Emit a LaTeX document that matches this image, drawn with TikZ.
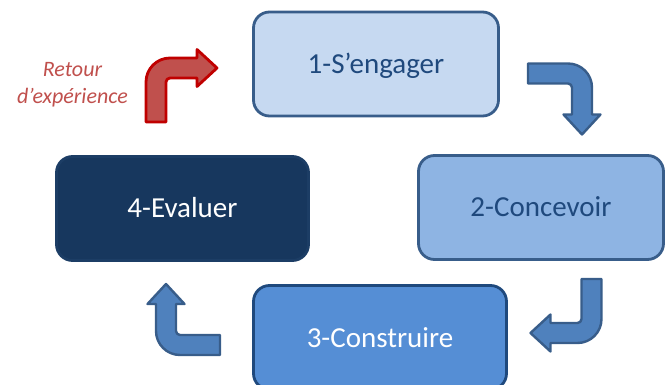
\documentclass[tikz,border=0pt]{standalone}
\usepackage{fontspec}
\setmainfont{Carlito}
\definecolor{stageone}{HTML}{C6D9F1}
\definecolor{stagetwo}{HTML}{8EB4E3}
\definecolor{stagethree}{HTML}{558ED5}
\definecolor{stagefour}{HTML}{17375E}
\definecolor{stageedge}{HTML}{385D8A}
\definecolor{stagetext}{HTML}{1F497D}
\definecolor{arrowfill}{HTML}{4F81BD}
\definecolor{arrowedge}{HTML}{385D8A}
\definecolor{returnfill}{HTML}{C0504D}
\definecolor{returnedge}{HTML}{C00000}
\tikzset{
  stage/.style={draw=stageedge, line width=2.8pt, rounded corners=16pt, minimum height=104pt,
    inner sep=0pt, text height=27pt, text depth=8pt, font=\fontsize{29}{34}\selectfont},
  turn/.style={fill=arrowfill, draw=arrowedge, line width=2.4pt, line join=round},
  % bent block arrow: stem along x, turning towards y
  bentarrow/.pic={
    \draw[pic actions] (0,-10) -- (40,-10) .. controls (53.25,-10) and (64,0.75) .. (64,14)
      -- (64,41) -- (72.5,41) -- (54,61) -- (35.5,41) -- (44,41) -- (44,14)
      .. controls (44,11.8) and (42.2,10) .. (40,10) -- (0,10) -- cycle;
  }
}
\begin{document}
\begin{tikzpicture}[x=1pt,y=-1pt]
\useasboundingbox (0,0) rectangle (665,385);
\node[stage, fill=stageone, text=stagetext, minimum width=245pt] (engager) at (376,64) {1-S’engager};
\node[stage, fill=stagetwo, text=stagetext, minimum width=245pt] (concevoir) at (541,207.5) {2-Concevoir};
\node[stage, fill=stagethree, text=white, draw=stagetext, minimum width=253pt] (construire) at (380,337.5) {3-Construire};
\node[stage, fill=stagefour, text=white, draw=stagefour!85!stageedge, minimum width=252pt] (evaluer) at (182.5,208.5) {4-Evaluer};
% arrows between the stages
\pic[turn] at (528,73.5) {bentarrow};
\pic[turn, rotate=-90] at (591.5,279) {bentarrow};
\pic[turn, rotate=180] at (220,345) {bentarrow};
\pic[fill=returnfill, draw=returnedge, line width=2.8pt, line join=round, rotate=90] at (156,122) {bentarrow};
\node[text=returnfill, font=\fontsize{22}{27}\selectfont\itshape, align=center, inner sep=0pt] (retour) at (72.5,85) {Retour\\d’expérience};
\end{tikzpicture}
\end{document}
